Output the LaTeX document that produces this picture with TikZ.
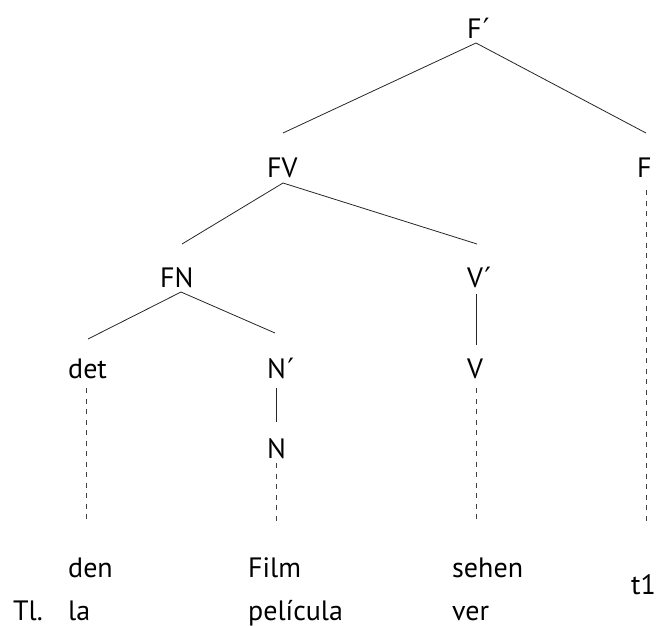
\documentclass[tikz,border=0pt]{standalone}
\usepackage{fontspec}
\setmainfont{PT Sans}
\newfontfamily\primefont{DejaVu Sans}
\newcommand{\prm}{\kern1.5pt{\primefont ′}}
\begin{document}
\begin{tikzpicture}[x=1pt,y=-1pt,
  lbl/.style={anchor=base west,inner sep=0pt,font=\fontsize{28}{30}\selectfont},
  branch/.style={line width=0.8pt,draw=black!85},
  trace/.style={line width=0.8pt,draw=black!75,dash pattern=on 5pt off 5.5pt}]
\useasboundingbox (0,0) rectangle (657,625);

% category labels
\node[lbl] (Fp)  at (467,38)  {F\prm};
\node[lbl] (FV)  at (267,177) {FV};
\node[lbl] (F)   at (637,177) {F};
\node[lbl] (FN)  at (160,287) {FN};
\node[lbl] (Vp)  at (467,287) {V\prm};
\node[lbl] (det) at (68,378)  {det};
\node[lbl] (Np)  at (267,378) {N\prm};
\node[lbl] (V)   at (467,378) {V};
\node[lbl] (N)   at (267,458) {N};

% words and gloss
\node[lbl] (den)   at (68,577)  {den};
\node[lbl] (film)  at (248,577) {Film};
\node[lbl] (sehen) at (452,577) {sehen};
\node[lbl] (t1)    at (631,594) {t1};
\node[lbl] (tl)    at (13,620)  {Tl.};
\node[lbl] (la)    at (68,620)  {la};
\node[lbl] (peli)  at (248,620) {película};
\node[lbl] (ver)   at (452,620) {ver};

% attachment points of the branches
\coordinate (Fp-b)  at (476,43);
\coordinate (FV-t)  at (283,133);
\coordinate (F-t)   at (646,133);
\coordinate (FV-b)  at (283,183);
\coordinate (FN-t)  at (182,244);
\coordinate (Vp-t)  at (477,244);
\coordinate (FN-b)  at (181,292);
\coordinate (det-t) at (88,339);
\coordinate (Np-t)  at (275,333);
\coordinate (Vp-b)  at (476,294);
\coordinate (V-t)   at (476,345);
\coordinate (Np-b)  at (276,388);
\coordinate (N-t)   at (276,422);
\coordinate (det-b) at (86,388);
\coordinate (N-b)   at (276,463);
\coordinate (V-b)   at (476,388);
\coordinate (F-b)   at (646,190);
\coordinate (den-t) at (86,522);
\coordinate (film-t) at (276,522);
\coordinate (sehen-t) at (476,522);
\coordinate (t1-t)  at (646,522);

% tree branches
\draw[branch] (FV-t) -- (Fp-b) -- (F-t);
\draw[branch] (FN-t) -- (FV-b) -- (Vp-t);
\draw[branch] (det-t) -- (FN-b) -- (Np-t);
\draw[branch] (Vp-b) -- (V-t);
\draw[branch] (Np-b) -- (N-t);

% dashed links down to the words
\draw[trace] (det-b) -- (den-t);
\draw[trace] (N-b) -- (film-t);
\draw[trace] (V-b) -- (sehen-t);
\draw[trace] (F-b) -- (t1-t);
\end{tikzpicture}
\end{document}
